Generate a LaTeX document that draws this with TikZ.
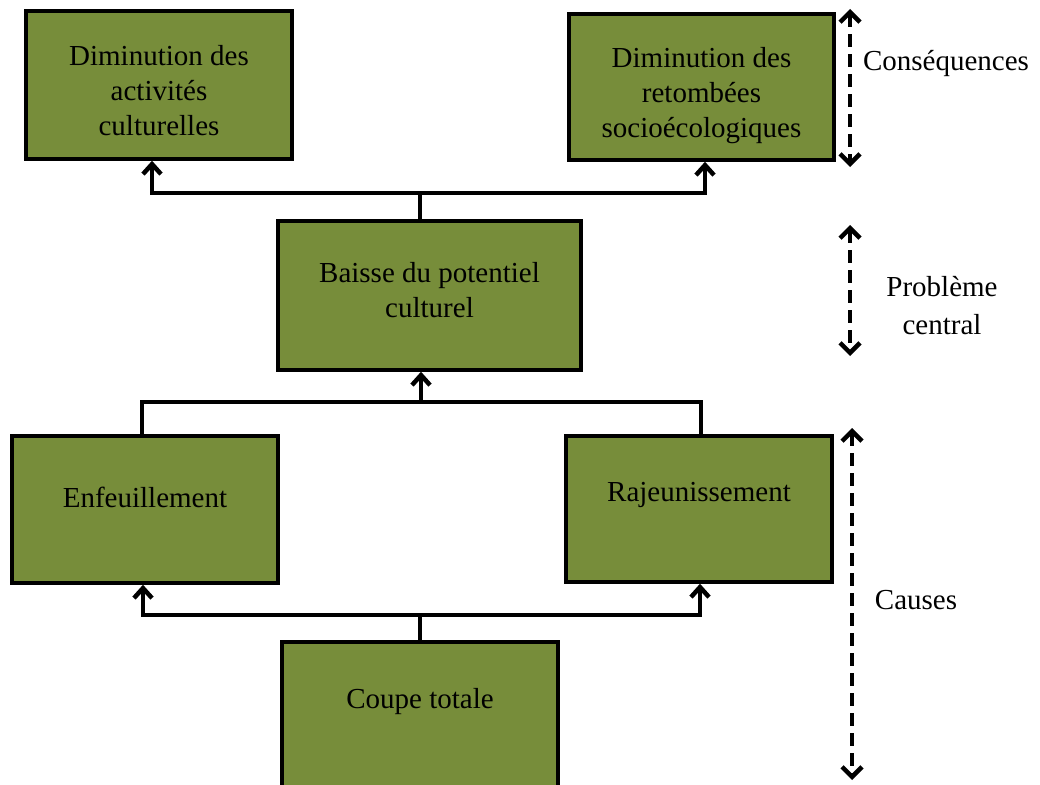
\documentclass[tikz,border=0pt]{standalone}
\usepackage{fontspec}
\setmainfont{Liberation Serif}
\usetikzlibrary{arrows.meta}
\definecolor{olive}{RGB}{119,141,58}
\tikzset{
  x=1pt, y=-1pt,
  box/.style={draw=black, line width=3.5pt, fill=olive, inner sep=0pt},
  boxtext/.style={align=center, inner sep=0pt, font=\fontsize{29}{35}\selectfont},
  lbl/.style={align=center, inner sep=0pt, font=\fontsize{29}{38}\selectfont},
  barb/.tip={Straight Barb[length=10pt,width=18pt,line width=4.5pt]},
  dbarb/.tip={Straight Barb[length=10pt,width=20pt,line width=4.5pt]},
  conn/.style={line width=4pt, line join=miter},
  dasharrow/.style={line width=4.5pt, dash pattern=on 13pt off 7pt, dbarb-dbarb},
}
\begin{document}
\begin{tikzpicture}
\useasboundingbox (0,0) rectangle (1040,784);
\clip (0,0) rectangle (1040,784);
\fill[white] (0,0) rectangle (1040,784);
% boxes
\node[box, minimum width=266pt, minimum height=148pt] (b1) at (159,85) {};
\node[box, minimum width=265pt, minimum height=146pt] (b2) at (701.5,87) {};
\node[box, minimum width=303pt, minimum height=149pt] (bp) at (429.5,295.5) {};
\node[box, minimum width=266pt, minimum height=147pt] (be) at (145,509.5) {};
\node[box, minimum width=266pt, minimum height=146pt] (br) at (699,509) {};
\node[box, minimum width=276pt, minimum height=150pt] (bc) at (420,717) {};
% texts (yshift positive = up)
\node[boxtext] (t1) at ([yshift=-6pt]b1.center) {Diminution des\\activités\\culturelles};
\node[boxtext] (t2) at ([yshift=-9pt]b2.center) {Diminution des\\retombées\\socioécologiques};
\node[boxtext] (tp) at ([yshift=5pt]bp.center) {Baisse du potentiel\\culturel};
\node[boxtext] (te) at ([yshift=12pt]be.center) {Enfeuillement};
\node[boxtext] (tr) at ([yshift=14pt]br.center) {Rajeunissement};
\node[boxtext] (tc) at ([yshift=15pt]bc.center) {Coupe totale};
% top connectors
\coordinate (j1) at (420,193);
\coordinate (a1) at (152,193);
\coordinate (a2) at (705,193);
\draw[conn] (bp.north -| j1) -- (j1);
\draw[conn, barb-barb] (b1.south -| a1) -- (a1) -- (a2) -- (b2.south -| a2);
% middle connectors
\coordinate (j2) at (421,402);
\coordinate (c1) at (142,402);
\coordinate (c2) at (701,402);
\draw[conn] (be.north -| c1) -- (c1) -- (c2) -- (br.north -| c2);
\draw[conn, -barb] (j2) -- (bp.south -| j2);
% bottom connectors
\coordinate (j3) at (420,615);
\coordinate (d1) at (143,615);
\coordinate (d2) at (700,615);
\draw[conn] (bc.north -| j3) -- (j3);
\draw[conn, barb-barb] (be.south -| d1) -- (d1) -- (d2) -- (br.south -| d2);
% side dashed arrows
\coordinate (s1a) at (850,9);
\coordinate (s1b) at (850,167);
\coordinate (s2a) at (850,225);
\coordinate (s2b) at (850,356);
\coordinate (s3a) at (852,428);
\coordinate (s3b) at (852,780);
\draw[dasharrow] (s1a) -- (s1b);
\draw[dasharrow] (s2a) -- (s2b);
\draw[dasharrow] (s3a) -- (s3b);
% side labels
\node[lbl] (l1) at (946,64) {Conséquences};
\node[lbl] (l2) at (942,306) {Problème\\central};
\node[lbl] (l3) at (916,600) {Causes};
\end{tikzpicture}
\end{document}
